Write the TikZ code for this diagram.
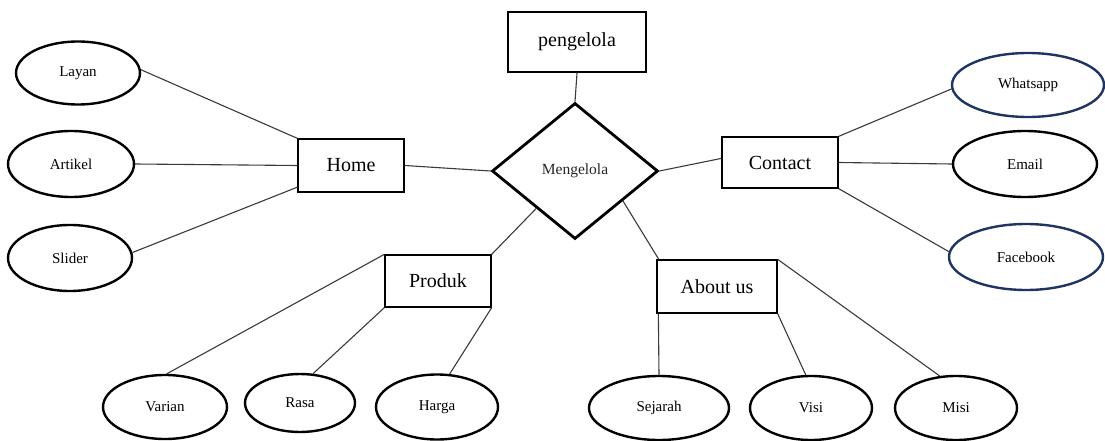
\documentclass[tikz,border=0pt]{standalone}
\usepackage{fontspec}
\setmainfont{Liberation Serif}
\usetikzlibrary{shapes.geometric}
\definecolor{navy}{HTML}{1F3461}
\definecolor{conn}{HTML}{3A3A3A}
\tikzset{
  attr/.style={ellipse, draw=black, line width=2.4pt, inner sep=0pt, font=\fontsize{15}{17}\selectfont},
  attrblue/.style={attr, draw=navy},
  ent/.style={rectangle, draw=black, line width=1.3pt, inner sep=0pt, font=\fontsize{20}{22}\selectfont},
  rel/.style={diamond, draw=black, line width=2.8pt, inner sep=0pt, font=\fontsize{15.5}{17}\selectfont, text=black!85},
  link/.style={draw=conn, line width=1.1pt},
}
\begin{document}
\begin{tikzpicture}[x=1pt,y=-1pt]
\useasboundingbox (0,0) rectangle (1105,441);
% entities
\node[ent, line width=2.4pt, minimum width=138pt, minimum height=60pt] (peng) at (577,42) {pengelola};
\node[rel, minimum width=166pt, minimum height=136pt] (mg) at (575,171) {Mengelola};
\node[ent, minimum width=106pt, minimum height=53pt] (home) at (351,165.5) {Home};
\node[ent, minimum width=116pt, minimum height=51pt] (contact) at (780,162.5) {Contact};
\node[ent, minimum width=106pt, minimum height=52pt] (produk) at (438,281) {Produk};
\node[ent, minimum width=120pt, minimum height=53pt] (about) at (717,286.5) {About us};
% attributes
\node[attr, minimum width=124pt, minimum height=63pt] (layan) at (78,73) {Layan};
\node[attr, minimum width=126pt, minimum height=66pt] (artikel) at (71,164) {Artikel};
\node[attr, minimum width=124pt, minimum height=66pt] (slider) at (70,258) {Slider};
\node[attrblue, minimum width=152pt, minimum height=64pt] (whatsapp) at (1028,85) {Whatsapp};
\node[attr, minimum width=144pt, minimum height=66pt] (email) at (1025,164) {Email};
\node[attrblue, minimum width=154pt, minimum height=66pt] (facebook) at (1026,257) {Facebook};
\node[attr, minimum width=124pt, minimum height=64pt] (varian) at (165,407) {Varian};
\node[attr, minimum width=110pt, minimum height=58pt] (rasa) at (300,403) {Rasa};
\node[attr, minimum width=122pt, minimum height=65pt] (harga) at (437,407) {Harga};
\node[attr, minimum width=140pt, minimum height=64pt] (sejarah) at (659,408) {Sejarah};
\node[attr, minimum width=122pt, minimum height=64pt] (visi) at (811,408) {Visi};
\node[attr, minimum width=122pt, minimum height=64pt] (misi) at (956,408) {Misi};
% connectors
\draw[link] (peng.south) -- (mg.north);
\draw[link] (home.east) -- (mg.west);
\draw[link] (mg.east) -- (contact.176);
\draw[link] (mg.224) -- (produk.north east);
\draw[link] (mg.328) -- (about.155);
\draw[link] (layan.3) -- (home.north west);
\draw[link] (artikel.east) -- (home.west);
\draw[link] (slider.5) -- (home.202);
\draw[link] (contact.north east) -- (whatsapp.183);
\draw[link] (contact.east) -- (email.west);
\draw[link] (contact.south east) -- (facebook.176);
\draw[link] (produk.north west) -- (varian.87);
\draw[link] (produk.south west) -- (rasa.66);
\draw[link] (produk.south east) -- (harga.69);
\draw[link] ([xshift=2pt]about.south west) -- (sejarah.north);
\draw[link] (about.south east) -- (visi.99);
\draw[link] (about.north east) -- (misi.117);
\end{tikzpicture}
\end{document}
